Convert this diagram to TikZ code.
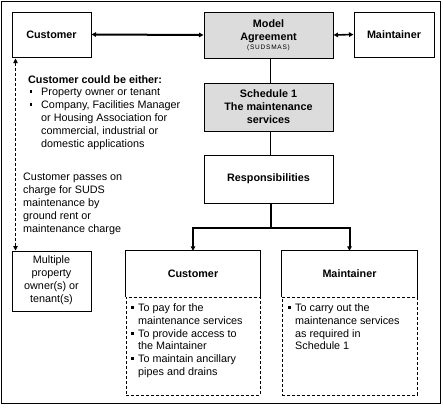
\documentclass[tikz,border=0pt]{standalone}
\usepackage{fontspec}
\setmainfont{Liberation Sans}
\usetikzlibrary{arrows.meta,calc}
\definecolor{boxgray}{RGB}{220,220,220}
\newcommand{\mybul}{\rule{2.4pt}{2.4pt}}
\begin{document}
\begin{tikzpicture}[x=1pt,y=-1pt,
  bodyfont/.style={font=\fontsize{10.8}{13}\selectfont},
  boldfont/.style={font=\bfseries\fontsize{10.8}{13}\selectfont},
  box/.style={draw,line width=1pt,inner sep=0pt,align=center,boldfont},
  gbox/.style={box,fill=boxgray},
  ghost/.style={inner sep=0pt},
  txt/.style={anchor=base west,inner sep=0pt,bodyfont},
  ctxt/.style={anchor=base,inner sep=0pt,bodyfont},
  btxt/.style={anchor=base west,inner sep=0pt,boldfont},
  cbtxt/.style={anchor=base,inner sep=0pt,boldfont},
  bul/.style={anchor=base west,inner sep=0pt,font=\fontsize{10.8}{13}\selectfont},
  tipA/.style={{Triangle[length=4.5pt,width=4.5pt]}-{Triangle[length=4.5pt,width=4.5pt]}},
  tipB/.style={-{Triangle[length=4.5pt,width=4.5pt]}},
  heavy/.style={line width=2pt},
  dashline/.style={line width=0.9pt,dash pattern=on 3pt off 2pt}
]
\useasboundingbox (0,0) rectangle (443,407);
% outer frame
\node[draw,line width=1pt,inner sep=0pt,minimum width=439pt,minimum height=402pt] (frame) at (220.5,202) {};

% top row
\node[box,minimum width=79pt,minimum height=45pt] (cust) at (51.5,34.5) {Customer};
\node[gbox,minimum width=129pt,minimum height=46pt] (model) at (268.5,35) {};
\node[cbtxt] (m1) at (268.5,27.5) {Model};
\node[cbtxt] (m2) at (268.5,40.5) {Agreement};
\node[anchor=base,inner sep=0pt,font=\fontsize{6.5}{8}\selectfont\addfontfeature{LetterSpace=12}] (m3) at (268.5,49.5) {(SUDSMAS)};
\node[box,minimum width=80pt,minimum height=45pt] (maint) at (394,34.5) {Maintainer};

\node[gbox,minimum width=129pt,minimum height=48pt] (sched) at (268.5,107) {Schedule 1\\The maintenance\\services};
\node[box,minimum width=129pt,minimum height=48pt] (resp) at (268.5,179) {Responsibilities};

% left texts
\node[btxt] (h1) at (28,83) {Customer could be either:};
\node[bul] (b1) at (29.5,92.5) {\mybul};
\node[txt] (l1) at (41,95) {Property owner or tenant};
\node[bul] (b2) at (29.5,105.5) {\mybul};
\node[txt] (l2) at (41,108) {Company, Facilities Manager};
\node[txt] (l3) at (41,121) {or Housing Association for};
\node[txt] (l4) at (41,134) {commercial, industrial or};
\node[txt] (l5) at (41,147) {domestic applications};

\node[txt] (p1) at (23,180) {Customer passes on};
\node[txt] (p2) at (23,193) {charge for SUDS};
\node[txt] (p3) at (23,206) {maintenance by};
\node[txt] (p4) at (23,219) {ground rent or};
\node[txt] (p5) at (23,232) {maintenance charge};

% multiple box
\node[draw,line width=1pt,minimum width=79pt,minimum height=60pt,inner sep=0pt] (multi) at (51.5,281) {};
\node[ctxt] (q1) at (51.5,263) {Multiple};
\node[ctxt] (q2) at (51.5,276) {property};
\node[ctxt] (q3) at (51.5,289) {owner(s) or};
\node[ctxt] (q4) at (51.5,302) {tenant(s)};

% lower boxes
\node[ghost,minimum width=134pt,minimum height=46pt,boldfont] (lch) at (193,274) {Customer};
\node[draw,dashline,minimum width=134pt,minimum height=98pt,inner sep=0pt] (lcb) at (193,346) {};
\draw[line width=1pt] (lch.south west) -- (lch.north west) -- (lch.north east) -- (lch.south east);
\node[ghost,minimum width=135pt,minimum height=46pt,boldfont] (lmh) at (349.5,274) {Maintainer};
\node[draw,dashline,minimum width=135pt,minimum height=98pt,inner sep=0pt] (lmb) at (349.5,346) {};
\draw[line width=1pt] (lmh.south west) -- (lmh.north west) -- (lmh.north east) -- (lmh.south east);

\node[bul] (c0) at (131,308.5) {\mybul};
\node[txt] (c1) at (138,311) {To pay for the};
\node[txt] (c2) at (138,324) {maintenance services};
\node[bul] (c2b) at (131,334.5) {\mybul};
\node[txt] (c3) at (138,337) {To provide access to};
\node[txt] (c4) at (138,349.5) {the Maintainer};
\node[bul] (c4b) at (131,359.5) {\mybul};
\node[txt] (c5) at (138,362) {To maintain ancillary};
\node[txt] (c6) at (138,375) {pipes and drains};

\node[bul] (d0) at (288,308.5) {\mybul};
\node[txt] (d1) at (295,311) {To carry out the};
\node[txt] (d2) at (295,324) {maintenance services};
\node[txt] (d3) at (295,337) {as required in};
\node[txt] (d4) at (295,349.5) {Schedule 1};

% connectors
\draw[heavy,tipA] (cust.east) -- (model.west);
\draw[line width=1.6pt,tipA] (model.east) -- (maint.west);
\draw[line width=1pt] ($(model.south)+(2,0)$) -- ($(sched.north)+(2,0)$);
\draw[line width=1pt] ($(sched.south)+(2,0)$) -- ($(resp.north)+(2,0)$);
\coordinate (j) at ($(resp.south)+(2,24)$);
\draw[heavy] ($(resp.south)+(2,0)$) -- (j);
\draw[heavy,tipB] (j) -| (lch.north);
\draw[heavy,tipB] (j) -| (lmh.north);
\draw[dashline,tipA] ($(cust.south west)+(4,1)$) -- ($(multi.north west)+(4,0)$);
\end{tikzpicture}
\end{document}
